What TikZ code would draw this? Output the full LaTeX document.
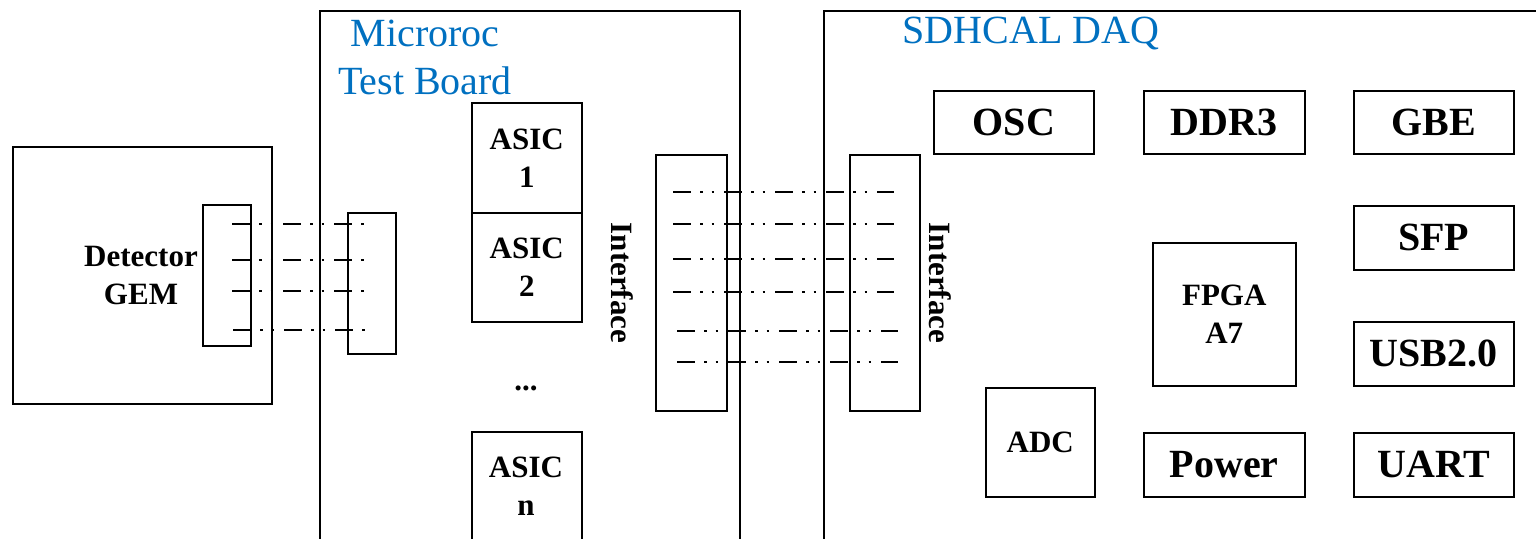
\documentclass[tikz,border=0pt]{standalone}
\usepackage{fontspec}
\setmainfont{Liberation Serif}
\definecolor{tblue}{RGB}{0,112,192}
\begin{document}
\begin{tikzpicture}[x=1pt,y=-1pt,
 box/.style={draw=black, line width=1.5pt, inner sep=0pt, anchor=north west},
 big/.style={font=\fontsize{40}{48}\selectfont\bfseries},
 small/.style={font=\fontsize{31}{38}\selectfont\bfseries, align=center},
 ttl/.style={font=\fontsize{40}{48}\selectfont, text=tblue, align=center},
 sig/.style={line width=2.2pt, dash pattern=on 18pt off 9pt on 2.5pt off 9pt on 2.5pt off 10pt}]
\useasboundingbox (0,0) rectangle (1536,538);
\clip (0,0) rectangle (1536,538);
% detector
\node[box, minimum width=259, minimum height=257] (det) at (12,146) {};
\node[small] (dettxt) at (141,275) {Detector\\GEM};
\node[box, minimum width=48, minimum height=141] (detcon) at (202,204) {};
% microroc board
\node[box, minimum width=420, minimum height=600] (mboard) at (319,10) {};
\node[ttl] (mtitle) at (425,57) {Microroc\\Test Board};
\node[box, minimum width=48, minimum height=141] (mcon) at (347,212) {};
\node[box, minimum width=110, minimum height=110, small] (asic1) at (471,102) {ASIC\\1};
\node[box, minimum width=110, minimum height=109, small] (asic2) at (471,212) {ASIC\\2};
\node[small, anchor=base] (dots) at (526,390) {...};
\node[box, minimum width=110, minimum height=200] (asicn) at (471,431) {};
\node[small] (asicntxt) at (526,486) {ASIC\\n};
\node[box, minimum width=71, minimum height=256] (ifl) at (655,154) {};
\node[small, rotate=-90] (ifltxt) at (622,283) {Interface};
% SDHCAL DAQ
\node[box, minimum width=800, minimum height=600] (daq) at (823,10) {};
\node[ttl] (dtitle) at (1031,33) {SDHCAL DAQ};
\node[box, minimum width=70, minimum height=256] (ifr) at (849,154) {};
\node[small, rotate=-90] (ifrtxt) at (940,283) {Interface};
\node[box, big, minimum width=160, minimum height=63] (osc) at (933,90) {OSC};
\node[box, big, minimum width=161, minimum height=63] (ddr) at (1143,90) {DDR3};
\node[box, big, minimum width=160, minimum height=63] (gbe) at (1353,90) {GBE};
\node[box, big, minimum width=160, minimum height=64] (sfp) at (1353,205) {SFP};
\node[box, big, minimum width=160, minimum height=64] (usb) at (1353,321) {USB2.0};
\node[box, big, minimum width=160, minimum height=64] (uart) at (1353,432) {UART};
\node[box, big, minimum width=161, minimum height=64] (power) at (1143,432) {Power};
\node[box, small, minimum width=109, minimum height=109] (adc) at (985,387) {ADC};
\node[box, small, minimum width=143, minimum height=143] (fpga) at (1152,242) {FPGA\\A7};
% signal lines detector -> microroc connector
\foreach \i/\y/\s in {1/224/232, 2/260/232, 3/291/232, 4/330/233} {
  \coordinate (ds\i) at (\s,\y);
  \coordinate (de\i) at (\s+132,\y);
  \draw[sig] (ds\i) -- (de\i);
}
% signal lines interface -> interface
\foreach \i/\y/\s in {1/192/673, 2/224/673, 3/259/673, 4/292/673, 5/331/677, 6/362/677} {
  \coordinate (is\i) at (\s,\y);
  \coordinate (ie\i) at (\s+221,\y);
  \draw[sig] (is\i) -- (ie\i);
}
\end{tikzpicture}
\end{document}
